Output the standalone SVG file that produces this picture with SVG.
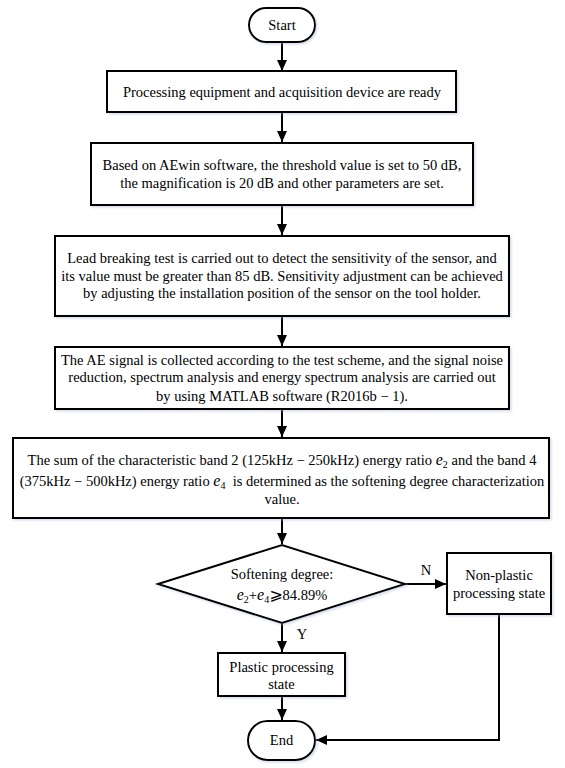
<svg xmlns="http://www.w3.org/2000/svg" width="565" height="768" viewBox="0 0 565 768">
<style>
.n{fill:#fff;stroke:#000;stroke-width:2;filter:url(#sh)}
.t{font-family:"Liberation Serif","Times New Roman",serif;font-size:14.5px;fill:#000;text-anchor:middle}
.m{font-style:italic;font-size:16px}
.s{font-size:10px}
.c{fill:none;stroke:#000;stroke-width:2;marker-end:url(#ah)}
</style>
<defs>
<filter id="sh" x="-5%" y="-5%" width="110%" height="115%">
<feDropShadow dx="1.5" dy="1.5" stdDeviation="1.2" flood-color="#9fb3d1" flood-opacity="0.45"/>
</filter>
<marker id="ah" markerUnits="userSpaceOnUse" markerWidth="12" markerHeight="11" refX="11" refY="5" orient="auto">
<path d="M0,0 L11,5 L0,10 z" fill="#000"/>
</marker>
</defs>
<rect width="565" height="768" fill="#fff"/>
<g id="connectors">
<path class="c" d="M282,42 V71"/>
<path class="c" d="M282,112 V142"/>
<path class="c" d="M282,205 V235"/>
<path class="c" d="M282,316 V346"/>
<path class="c" d="M282,409 V437"/>
<path class="c" d="M282,518 V544"/>
<path class="c" d="M405,584 H446"/>
<path class="c" d="M282,623 V652"/>
<path class="c" d="M282,696 V720"/>
<path class="c" d="M499,614 V740 H316"/>
</g>
<g id="start">
<rect class="n" x="249" y="8" width="66" height="34" rx="17"/>
<text class="t" x="282" y="30">Start</text>
</g>
<g id="ready">
<rect class="n" x="107" y="71" width="349" height="41"/>
<text class="t" x="282" y="97">Processing equipment and acquisition device are ready</text>
</g>
<g id="aewin">
<rect class="n" x="91" y="143" width="382" height="62"/>
<text class="t" x="282" y="170">Based on AEwin software, the threshold value is set to 50 dB,</text>
<text class="t" x="282" y="188">the magnification is 20 dB and other parameters are set.</text>
</g>
<g id="leadbreak">
<rect class="n" x="55" y="236" width="454" height="80"/>
<text class="t" x="282" y="263">Lead breaking test is carried out to detect the sensitivity of the sensor, and</text>
<text class="t" x="282" y="281">its value must be greater than 85 dB. Sensitivity adjustment can be achieved</text>
<text class="t" x="282" y="298">by adjusting the installation position of the sensor on the tool holder.</text>
</g>
<g id="signal">
<rect class="n" x="55" y="347" width="454" height="62"/>
<text class="t" x="282" y="365">The AE signal is collected according to the test scheme, and the signal noise</text>
<text class="t" x="282" y="382">reduction, spectrum analysis and energy spectrum analysis are carried out</text>
<text class="t" x="282" y="401">by using MATLAB software (R2016b − 1).</text>
</g>
<g id="sum">
<rect class="n" x="13" y="438" width="536" height="80"/>
<text class="t" x="282" y="465">The sum of the characteristic band 2 (125kHz − 250kHz) energy ratio <tspan class="m">e</tspan><tspan class="s" dy="3">2</tspan><tspan dy="-3"> and the band 4</tspan></text>
<text class="t" x="282" y="486">(375kHz − 500kHz) energy ratio <tspan class="m">e</tspan><tspan class="s" dy="3">4</tspan><tspan dy="-3">&#160; is determined as the softening degree characterization</tspan></text>
<text class="t" x="282" y="504">value.</text>
</g>
<g id="decision">
<polygon class="n" points="158,584 282,545 405,584 282,623"/>
<text class="t" x="282" y="579">Softening degree:</text>
<text class="t" x="282" y="600"><tspan class="m">e</tspan><tspan class="s" dy="3">2</tspan><tspan dy="-3">+</tspan><tspan class="m">e</tspan><tspan class="s" dy="3">4</tspan><tspan dy="-3" font-family="'DejaVu Sans',sans-serif" font-size="16">⩾</tspan>84.89%</text>
<text class="t" x="426" y="575">N</text>
<text class="t" x="302" y="639">Y</text>
</g>
<g id="nonplastic">
<rect class="n" x="447" y="553" width="104" height="61"/>
<text class="t" x="499" y="580">Non-plastic</text>
<text class="t" x="499" y="598">processing state</text>
</g>
<g id="plastic">
<rect class="n" x="218" y="653" width="127" height="43"/>
<text class="t" x="281.5" y="672">Plastic processing</text>
<text class="t" x="281.5" y="689">state</text>
</g>
<g id="end">
<rect class="n" x="248" y="721" width="67" height="39" rx="19.5"/>
<text class="t" x="281.5" y="745">End</text>
</g>
</svg>
